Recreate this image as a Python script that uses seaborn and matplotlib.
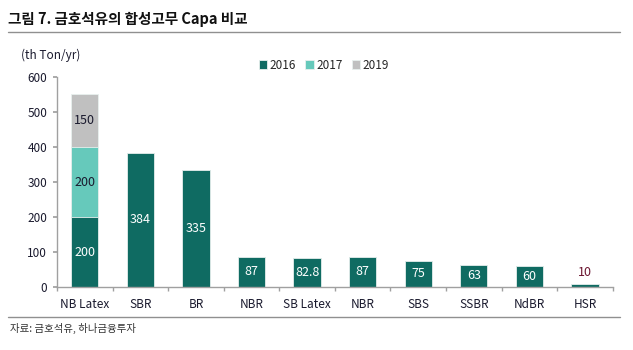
import numpy as np
import pandas as pd
import seaborn as sns
import matplotlib.pyplot as plt

# data
categories = ["NB Latex", "SBR", "BR", "NBR", "SB Latex", "NBR", "SBS", "SSBR", "NdBR", "HSR"]
cap_2016 = [200, 384, 335, 87, 82.8, 87, 75, 63, 60, 10]
cap_2017 = [200, 0, 0, 0, 0, 0, 0, 0, 0, 0]
cap_2019 = [150, 0, 0, 0, 0, 0, 0, 0, 0, 0]
value_labels = ["200", "384", "335", "87", "82.8", "87", "75", "63", "60", "10"]

c16, c17, c19 = "#0f6b62", "#66c9bb", "#c0c0c0"

sns.set_theme(style="white")
plt.rcParams["font.family"] = ["Noto Sans CJK KR", "DejaVu Sans"]

df = pd.DataFrame({
    "pos": [str(i) for i in range(len(categories))],
    "y16": cap_2016,
    "y17": np.array(cap_2016) + np.array(cap_2017),
    "y19": np.array(cap_2016) + np.array(cap_2017) + np.array(cap_2019),
})

fig = plt.figure(figsize=(6.33, 3.5), dpi=100)
ax = fig.add_axes([0.090, 0.180, 0.878, 0.600])

# stacked bars: draw cumulative totals back to front
for col, color, lab in [("y19", c19, "2019"), ("y17", c17, "2017"), ("y16", c16, "2016")]:
    sns.barplot(data=df, x="pos", y=col, color=color, width=0.49, ax=ax,
                edgecolor="#e8f0ee", linewidth=0.6, label=lab, saturation=1)

ax.set_ylim(0, 600)
ax.set_xlim(-0.5, len(categories) - 0.5)
ax.set_yticks(range(0, 601, 100))
ax.set_xticks(range(len(categories)))
ax.set_xticklabels(categories)
ax.set_xlabel("")
ax.set_ylabel("")

for s in ["top", "right"]:
    ax.spines[s].set_visible(False)
for s in ["left", "bottom"]:
    ax.spines[s].set_color("#a0a0a0")
    ax.spines[s].set_linewidth(1.0)

ax.tick_params(axis="y", which="both", left=True, length=3, color="#a0a0a0",
               labelsize=8.5, labelcolor="#1a1a2e", pad=4)
ax.tick_params(axis="x", which="major", bottom=False, labelsize=8.5,
               labelcolor="#1a1a2e", pad=2)
ax.set_xticks(np.arange(-0.5, len(categories), 1.0), minor=True)
ax.tick_params(axis="x", which="minor", bottom=True, length=3, color="#a0a0a0")

# value labels
for i, v in enumerate(cap_2016):
    if v >= 50:
        ax.text(i, v / 2, value_labels[i], ha="center", va="center",
                color="white", fontsize=9)
    else:
        ax.text(i, v + 12, value_labels[i], ha="center", va="bottom",
                color="#6b1530", fontsize=9)
ax.text(0, 200 + 100, "200", ha="center", va="center", color="#1a1a2e", fontsize=9)
ax.text(0, 400 + 75, "150", ha="center", va="center", color="#1a1a2e", fontsize=9)

# legend
handles, labels = ax.get_legend_handles_labels()
order = [labels.index(l) for l in ["2016", "2017", "2019"]]
ax.legend([handles[k] for k in order], ["2016", "2017", "2019"],
          loc="upper left", bbox_to_anchor=(0.355, 1.11), ncol=3, frameon=False,
          fontsize=8.5, handlelength=0.7, handleheight=0.7, handletextpad=0.2,
          columnspacing=0.8, borderaxespad=0)

# headers and footers
fig.text(0.013, 0.945, "그림 7. 금호석유의 합성고무 Capa 비교", fontsize=10.5,
         fontweight="bold", color="#111111", va="center")
fig.add_artist(plt.Line2D([0.013, 0.98], [0.908, 0.908], color="#909090", lw=1.0))
fig.text(0.033, 0.842, "(th Ton/yr)", fontsize=8.5, color="#1a1a2e", va="center")
fig.add_artist(plt.Line2D([0.013, 0.98], [0.094, 0.094], color="#909090", lw=1.0))
fig.text(0.016, 0.062, "자료: 금호석유, 하나금융투자", fontsize=7.5,
         color="#333333", va="center")

fig.savefig("out.png", dpi=100, facecolor="white")
